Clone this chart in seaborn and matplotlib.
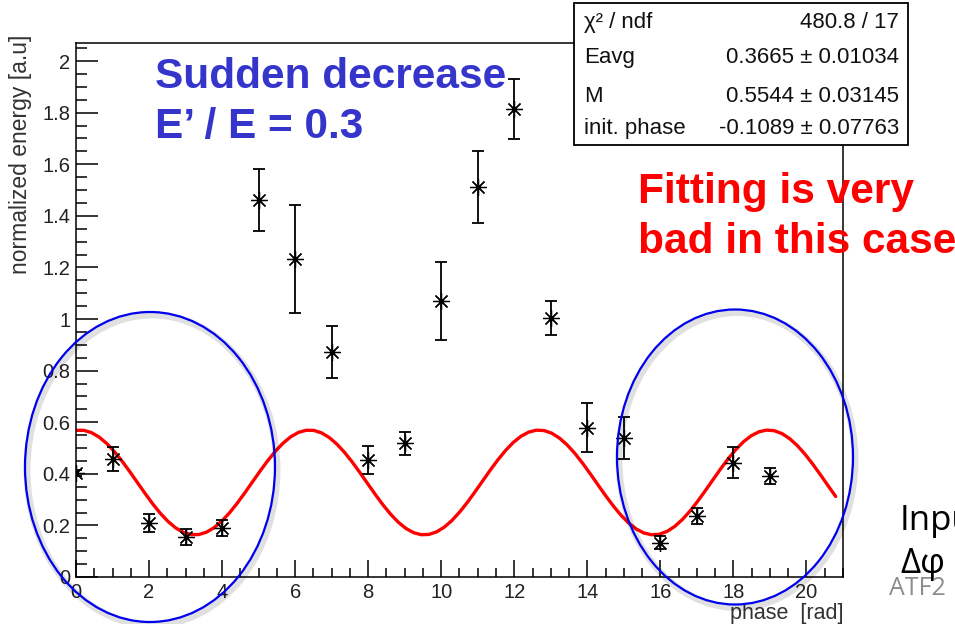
import numpy as np
import pandas as pd
import matplotlib
matplotlib.use("Agg")
import matplotlib.pyplot as plt
from matplotlib.patches import Ellipse, Rectangle
import seaborn as sns

# measured points
phase = [0, 1, 2, 3, 4, 5, 6, 7, 8, 9, 10, 11, 12, 13, 14, 15, 16, 17, 18, 19]
energy = [0.403, 0.457, 0.209, 0.155, 0.19, 1.46, 1.233, 0.872, 0.453, 0.519,
          1.07, 1.512, 1.814, 1.004, 0.578, 0.539, 0.132, 0.236, 0.442, 0.391]
energy_err = [0.01, 0.045, 0.035, 0.03, 0.03, 0.12, 0.21, 0.10, 0.055, 0.045,
              0.15, 0.14, 0.116, 0.066, 0.095, 0.08, 0.025, 0.03, 0.06, 0.03]

# fit result: E = Eavg * (1 + M cos(phase + init_phase))
fit_names = ["χ² / ndf", "Eavg", "M", "init. phase"]
fit_values = ["480.8 / 17", "0.3665 ± 0.01034", "0.5544 ± 0.03145", "-0.1089 ± 0.07763"]
e_avg, m_amp, init_phase = 0.3665, 0.5544, -0.1089
fit_range = (0.0, 20.8)

W, H = 955, 624
sns.set_theme(style="white")
plt.rcParams["font.family"] = ["Liberation Sans", "DejaVu Sans"]

fig = plt.figure(figsize=(W / 100, H / 100), dpi=100)
ax = fig.add_axes([76 / W, 1 - 577 / H, (843 - 76) / W, (577 - 43) / H])

# fitted curve
xf = np.linspace(fit_range[0], fit_range[1], 100)
fit_df = pd.DataFrame({"phase": xf,
                       "energy": e_avg * (1 + m_amp * np.cos(xf + init_phase))})
sns.lineplot(data=fit_df, x="phase", y="energy", ax=ax, color="#ff0000",
             lw=2.4, zorder=2)

# data with error bars
ax.errorbar(phase, energy, yerr=energy_err, fmt="none", ecolor="black",
            elinewidth=1.3, capsize=4.5, capthick=1.3, zorder=3)
ax.plot(phase, energy, ls="none", marker=(8, 2, 0), ms=12, mew=0.9,
        color="black", zorder=4)
pts = pd.DataFrame({"phase": phase, "energy": energy})
sns.scatterplot(data=pts, x="phase", y="energy", ax=ax, color="black",
                s=16, linewidth=0, zorder=5)

ax.set_xlim(0, 21)
ax.set_ylim(0, 2.07)
ax.set_xticks(np.arange(0, 21, 2))
ax.set_xticks(np.arange(0, 21.01, 0.5), minor=True)
ax.set_yticks(np.arange(0, 2.01, 0.2))
ax.set_yticks(np.arange(0, 2.07, 0.05), minor=True)
ax.set_xticklabels([str(v) for v in range(0, 21, 2)])
ax.set_yticklabels(["0", "0.2", "0.4", "0.6", "0.8", "1", "1.2", "1.4", "1.6", "1.8", "2"])
ax.tick_params(axis="both", which="both", direction="in", colors="black",
               labelcolor="#222222", labelsize=14.5, width=1.1,
               bottom=True, left=True, top=False, right=False)
ax.tick_params(axis="y", which="major", length=16, pad=4)
ax.tick_params(axis="y", which="minor", length=8)
ax.tick_params(axis="x", which="major", length=12.5, pad=4)
ax.tick_params(axis="x", which="minor", length=6.5)
for s in ax.spines.values():
    s.set_visible(True)
    s.set_color("black")
    s.set_linewidth(1.1)

ax.set_ylabel("normalized energy [a.u]", loc="top", fontsize=16.5, color="#333333")
ax.yaxis.set_label_coords(-0.057, 1.015)
ax.set_xlabel("phase  [rad]", loc="right", fontsize=15.5, color="#333333")
ax.xaxis.set_label_coords(1.0, -0.048)

# overlay in pixel coordinates for annotations
ov = fig.add_axes([0, 0, 1, 1], zorder=10)
ov.set_xlim(0, W)
ov.set_ylim(H, 0)
ov.axis("off")
ov.patch.set_alpha(0)

# statistics box
ov.add_patch(Rectangle((574, 3), 334, 142, facecolor="white",
                       edgecolor="black", lw=1.3))
rows_y = [28, 63, 102, 134]
for name, val, yy in zip(fit_names, fit_values, rows_y):
    ov.text(584, yy, name, fontsize=16, color="#111111", va="baseline", ha="left")
    ov.text(899, yy, val, fontsize=16, color="#111111", va="baseline", ha="right")

# highlighted regions
for cx, cy, w, h in [(150, 467, 250, 310), (735, 457, 236, 295)]:
    ov.add_patch(Ellipse((cx + 2, cy + 3), w, h, fill=False,
                         edgecolor="black", alpha=0.12, lw=5))
    ov.add_patch(Ellipse((cx, cy), w, h, fill=False, edgecolor="#0000ee", lw=1.6))

ov.text(155, 88, "Sudden decrease", fontsize=30.5, fontweight="bold",
        color="#3535cc", va="baseline", ha="left")
ov.text(155, 138, "E’ / E = 0.3", fontsize=30.5, fontweight="bold",
        color="#3535cc", va="baseline", ha="left")
ov.text(638, 203, "Fitting is very", fontsize=30.5, fontweight="bold",
        color="#ff0000", va="baseline", ha="left")
ov.text(638, 253, "bad in this case", fontsize=30.5, fontweight="bold",
        color="#ff0000", va="baseline", ha="left")

side_font = ["Open Sans", "DejaVu Sans"]
ov.text(900, 530, "Input", fontsize=25, color="black", va="baseline",
        ha="left", family=side_font)
ov.text(900, 573, "Δφ", fontsize=25, color="black", va="baseline",
        ha="left", family=side_font)
ov.text(889, 595, "ATF2", fontsize=18, color="#8c8c8c", va="baseline",
        ha="left", family=side_font)

fig.savefig("out.png", dpi=100)
